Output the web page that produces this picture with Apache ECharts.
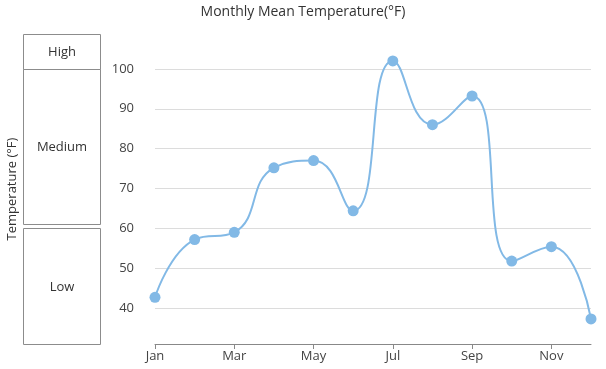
<!DOCTYPE html>
<html>
<head>
<meta charset="utf-8">
<script src="https://cdn.jsdelivr.net/npm/echarts@6/dist/echarts.min.js"></script>
<style>
html,body{margin:0;padding:0;background:#fff;}
#main{width:606px;height:369px;}
</style>
</head>
<body>
<div id="main"></div>
<script>
const months = ['Jan','Feb','Mar','Apr','May','Jun','Jul','Aug','Sep','Oct','Nov','Dec'];
const temps = [42.7, 57.2, 59, 75.2, 77, 64.4, 102, 86, 93.2, 51.8, 55.4, 37.3];
const yTicks = [40, 50, 60, 70, 80, 90, 100];
const yMin = 31;
const yMax = 108.75;
const levelNames = ['High', 'Medium', 'Low'];
const levelFrom = [100, 60, yMin];
const levelTo = [yMax, 100, 60];

const FONT = '"Open Sans", "Noto Sans", sans-serif';
const chart = echarts.init(document.getElementById('main'), null, {renderer: 'canvas'});

const option = {
  animation: false,
  title: {
    text: 'Monthly Mean Temperature(°F)',
    left: 'center',
    top: 0,
    textStyle: {fontFamily: FONT, fontSize: 14, fontWeight: 'normal', color: '#333'}
  },
  grid: {left: 155, right: 15, top: 34, bottom: 25, containLabel: false},
  xAxis: {
    type: 'category',
    data: months,
    boundaryGap: false,
    axisLine: {show: true, lineStyle: {color: '#888', width: 1}},
    axisTick: {show: true, interval: 1, length: 5, lineStyle: {color: '#888'}},
    axisLabel: {interval: 1, margin: 6, fontFamily: FONT, fontSize: 13, color: '#444'},
    splitLine: {show: false}
  },
  yAxis: {
    type: 'value',
    min: yMin,
    max: yMax,
    axisLine: {show: false},
    axisTick: {show: false, customValues: yTicks},
    axisLabel: {customValues: yTicks, margin: 21, fontFamily: FONT, fontSize: 13, color: '#444'},
    splitLine: {show: true, lineStyle: {color: '#dcdcdc', width: 1}}
  },
  series: [{
    type: 'line',
    data: temps,
    smooth: 0.5,
    symbol: 'circle',
    symbolSize: 11,
    lineStyle: {color: '#82b9e6', width: 2},
    itemStyle: {color: '#82b9e6'}
  }]
};
chart.setOption(option);

function yPix(v) { return chart.convertToPixel({yAxisIndex: 0}, v); }
const boxLeft = 23, boxRight = 100;
const graphics = [];
for (let i = 0; i < levelNames.length; i++) {
  let top = yPix(levelTo[i]);
  let bottom = yPix(levelFrom[i]);
  if (levelNames[i] === 'Medium') bottom -= 4.5;
  graphics.push({
    type: 'rect',
    shape: {x: boxLeft + 0.5, y: Math.round(top) + 0.5, width: boxRight - boxLeft, height: Math.round(bottom) - Math.round(top)},
    style: {fill: 'none', stroke: '#8c8c8c', lineWidth: 1}
  });
  graphics.push({
    type: 'text',
    x: (boxLeft + boxRight) / 2 + 0.5,
    y: (top + bottom) / 2 + 1,
    style: {text: levelNames[i], align: 'center', verticalAlign: 'middle', font: '13px ' + FONT, fill: '#333'}
  });
}
const gTop = yPix(yMax), gBottom = yPix(yMin);
graphics.push({
  type: 'text',
  x: 12,
  y: (gTop + gBottom) / 2,
  rotation: Math.PI / 2,
  style: {text: 'Temperature (°F)', align: 'center', verticalAlign: 'middle', font: '13px ' + FONT, fill: '#333'}
});
chart.setOption({graphic: graphics});
</script>
</body>
</html>
